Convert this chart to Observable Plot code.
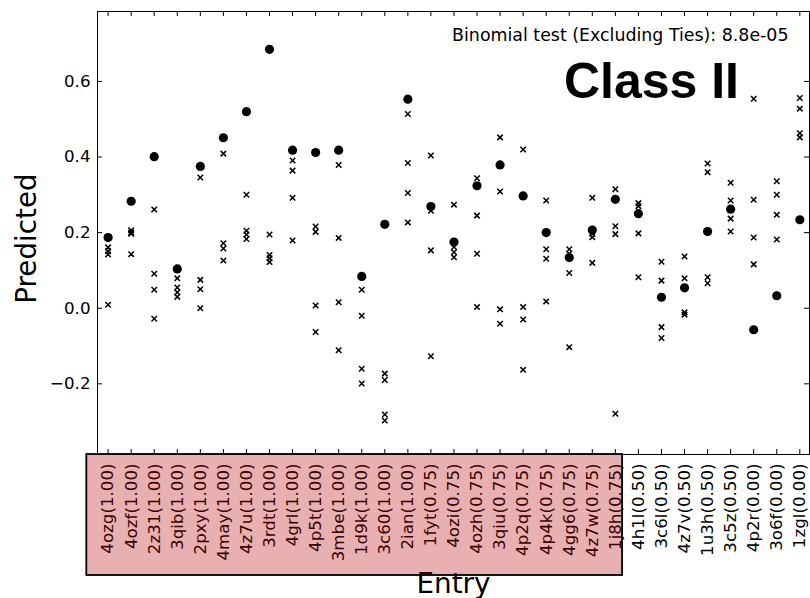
<!DOCTYPE html>
<html>
<head>
<meta charset="utf-8">
<script src="https://cdn.jsdelivr.net/npm/d3@7"></script>
<script src="https://cdn.jsdelivr.net/npm/@observablehq/plot@0.6"></script>
<style>
  html, body { margin: 0; padding: 0; background: #fff; }
  #chart { width: 810px; height: 598px; overflow: hidden; }
</style>
</head>
<body>
<div id="chart"></div>
<script>
// ---- data ----
const entries = ["4ozg","4ozf","2z31","3qib","2pxy","4may","4z7u","3rdt","4grl","4p5t","3mbe","1d9k","3c60","2ian",
                 "1fyt","4ozi","4ozh","3qiu","4p2q","4p4k","4gg6","4z7w","1j8h",
                 "4h1l","3c6l","4z7v","1u3h","3c5z",
                 "4p2r","3o6f","1zgl"];
const scores = [1,1,1,1,1,1,1,1,1,1,1,1,1,1,
                0.75,0.75,0.75,0.75,0.75,0.75,0.75,0.75,0.75,
                0.5,0.5,0.5,0.5,0.5,
                0,0,0];
// filled circles
const observed = [0.187,0.283,0.401,0.104,0.375,0.451,0.520,0.685,0.418,0.412,0.418,0.084,0.222,0.553,
                  0.269,0.175,0.324,0.379,0.297,0.200,0.134,0.207,0.288,
                  0.250,0.029,0.054,0.203,0.262,
                  -0.057,0.033,0.234];
// crosses
const predicted = [
  [0.161,0.151,0.142,0.009],
  [0.206,0.200,0.197,0.143],
  [0.261,0.091,0.049,-0.028],
  [0.079,0.055,0.042,0.030],
  [0.346,0.075,0.050,0.000],
  [0.409,0.172,0.158,0.126],
  [0.300,0.205,0.195,0.183],
  [0.195,0.141,0.132,0.122],
  [0.391,0.364,0.292,0.179],
  [0.216,0.202,0.007,-0.063],
  [0.379,0.186,0.016,-0.111],
  [0.049,-0.020,-0.160,-0.199],
  [-0.173,-0.190,-0.281,-0.297],
  [0.514,0.384,0.305,0.227],
  [0.404,0.258,0.153,-0.127],
  [0.274,0.162,0.148,0.135],
  [0.344,0.245,0.144,0.003],
  [0.452,0.309,-0.003,-0.041],
  [0.420,0.003,-0.030,-0.163],
  [0.285,0.156,0.131,0.018],
  [0.156,0.144,0.093,-0.103],
  [0.292,0.197,0.188,0.120],
  [0.315,0.217,0.196,-0.279],
  [0.278,0.270,0.198,0.082],
  [0.123,0.073,-0.050,-0.079],
  [0.137,0.079,-0.011,-0.017],
  [0.383,0.360,0.082,0.066],
  [0.332,0.285,0.237,0.203],
  [0.554,0.287,0.187,0.116],
  [0.336,0.300,0.247,0.182],
  [0.556,0.528,0.463,0.452]
];
const yTicks = [-0.2, 0, 0.2, 0.4, 0.6];
const xDomain = [-0.46, 30.42];
const yDomain = [-0.387, 0.785];
const binomialText = "Binomial test (Excluding Ties): 8.8e-05";
const classLabel = "Class II";
const yLabel = "Predicted";
const xLabel = "Entry";

// ---- derived tables ----
const idx = entries.map((_, i) => i);
const tickLabels = entries.map((e, i) => `${e}(${scores[i].toFixed(2)})`);
const dots = observed.map((v, i) => ({i, v}));
const crosses = predicted.flatMap((arr, i) => arr.map(v => ({i, v})));
const hi = idx.filter(i => scores[i] >= 0.75);
const highlight = [{x1: d3.min(hi), x2: d3.max(hi)}];

// ---- layout ----
const W = 810, H = 598, mT = 11, mB = 144, mL = 97, mR = 1;
const fw = W - mL - mR, fh = H - mT - mB, tick = 5;
const fs = 16.67, big = 27.8;

const chart = Plot.plot({
  width: W, height: H,
  marginTop: mT, marginBottom: mB, marginLeft: mL, marginRight: mR,
  x: {type: "linear", domain: xDomain},
  y: {domain: yDomain},
  style: {fontFamily: "DejaVu Sans", fontSize: fs + "px", background: "white", color: "black", overflow: "visible"},
  marks: [
    Plot.frame({stroke: "black", strokeWidth: 1}),
    Plot.tickX(idx, {x: d => d, insetTop: fh - tick, stroke: "black"}),
    Plot.tickX(idx, {x: d => d, insetBottom: fh - tick, stroke: "black"}),
    Plot.tickY(yTicks, {y: d => d, insetRight: fw - tick, stroke: "black"}),
    Plot.tickY(yTicks, {y: d => d, insetLeft: fw - tick, stroke: "black"}),
    Plot.axisY({ticks: yTicks, tickFormat: d3.format(".1f"), tickSize: 0, tickPadding: 7, label: null, fontSize: fs}),
    Plot.axisX({ticks: idx, tickFormat: i => tickLabels[i], tickRotate: -90, tickSize: 0, tickPadding: 9, label: null, fontSize: fs}),
    Plot.dot(crosses, {x: "i", y: "v", symbol: "times", r: 2.6, stroke: "black", strokeWidth: 1.5}),
    Plot.dot(dots, {x: "i", y: "v", r: 4.6, fill: "black", stroke: null}),
    Plot.text([binomialText], {frameAnchor: "top-right", text: d => d, dx: -21, dy: 29.7, lineAnchor: "bottom", textAnchor: "end", fontSize: 17.4, fill: "black"}),
    Plot.text([classLabel], {frameAnchor: "top-right", text: d => d, dx: -70.5, dy: 86, lineAnchor: "bottom", textAnchor: "end", fontSize: 50, fontWeight: "bold", fontFamily: "Liberation Sans", fill: "black"}),
    Plot.text([yLabel], {frameAnchor: "left", text: d => d, rotate: -90, dx: -62, dy: 5.5, lineAnchor: "bottom", textAnchor: "middle", fontSize: big, fill: "black"}),
    Plot.text([xLabel], {frameAnchor: "bottom", text: d => d, dy: 138, lineAnchor: "bottom", textAnchor: "middle", fontSize: big, fill: "black"}),
    Plot.rect(highlight, {x1: "x1", x2: "x2", y1: () => yDomain[0], y2: () => yDomain[0],
      insetLeft: -21.3, insetRight: -7.2, insetBottom: -121,
      fill: "#b40000", fillOpacity: 0.31, stroke: "black", strokeWidth: 1.8})
  ]
});
document.getElementById("chart").appendChild(chart);
</script>
</body>
</html>
